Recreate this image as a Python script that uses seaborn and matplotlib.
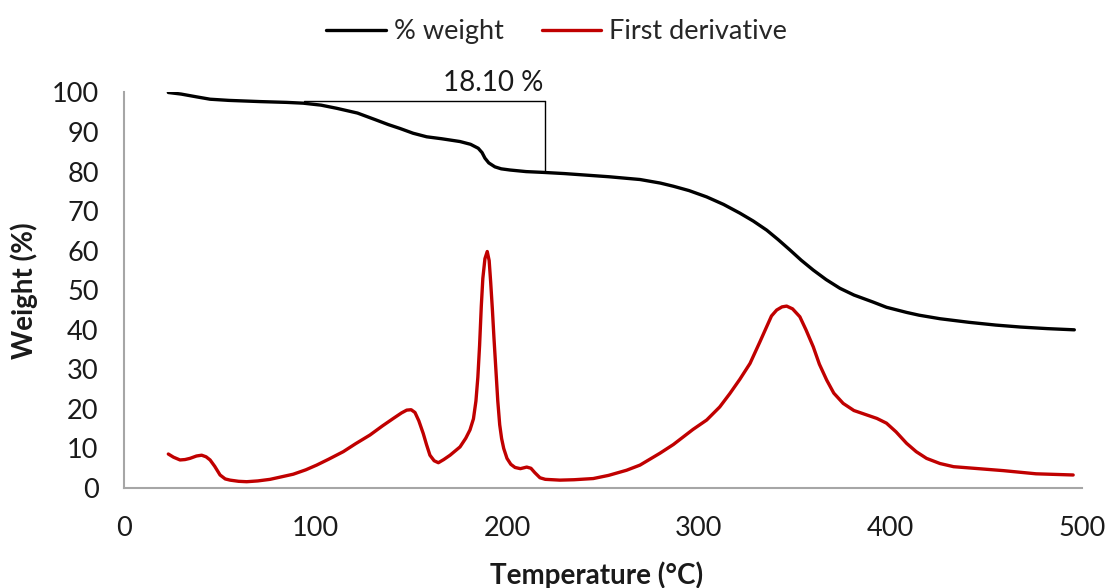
import matplotlib
matplotlib.use("Agg")
import matplotlib.pyplot as plt
import seaborn as sns
import pandas as pd

# Thermogravimetric curve: temperature (°C) vs remaining weight (%)
weight_temp = [23.3, 30, 38, 45.1, 55, 71.2, 85, 93.7, 103, 111.2, 122, 132,
               138, 144.2, 151, 158.1, 166, 175.5, 181, 185, 187, 188.5,
               190.5, 193.7, 197, 201.6, 210, 218.9, 230, 253.2, 269.4, 280,
               286.8, 295, 304.2, 313, 321.5, 328.5, 335.5, 341.5, 347.6,
               353.5, 359.8, 366.5, 373.7, 381, 391.1, 398, 408.5, 415, 426,
               441, 455, 468, 482, 496]
weight_pct = [100.0, 99.6, 98.9, 98.3, 98.0, 97.7, 97.5, 97.3, 96.8, 96.0,
              94.8, 93.0, 91.9, 90.9, 89.7, 88.8, 88.3, 87.6, 86.9, 85.9,
              84.8, 83.4, 82.2, 81.2, 80.7, 80.4, 80.0, 79.8, 79.5, 78.7,
              78.0, 77.1, 76.3, 75.2, 73.6, 71.7, 69.5, 67.5, 65.2, 62.8,
              60.2, 57.6, 55.1, 52.7, 50.5, 48.8, 47.0, 45.7, 44.4, 43.7,
              42.8, 41.9, 41.2, 40.7, 40.3, 40.0]

# First derivative of the weight curve
deriv_temp = [23.3, 26, 29.4, 32, 34.6, 38, 40.7, 43, 45.1, 47.5, 50.3, 53,
              55.5, 60, 64.2, 70, 76.4, 82, 88.5, 95, 100.7, 107, 114.6, 121,
              128.5, 135, 140.7, 145, 147.7, 150, 152, 154, 156.3, 158, 159.8,
              162, 164.2, 167, 170.3, 175.5, 178.5, 180.7, 182.5, 183.8,
              184.8, 185.7, 186.6, 187.4, 188.5, 189.7, 190.7, 191.5, 192.4,
              193.2, 194.2, 195.2, 196.2, 197.2, 198.3, 200, 202, 204.2, 207,
              210.3, 212.5, 214.5, 217.2, 220, 227.6, 235, 245, 253, 262.4,
              269.4, 279.8, 286.8, 297, 304.2, 311, 316.3, 321.5, 326.8, 332,
              335.5, 338, 340.7, 343.5, 345.9, 349, 352.8, 356, 359.8, 363,
              366.8, 370.5, 375.4, 381, 387.6, 393, 398, 403, 408.5, 413.5,
              418.9, 425.9, 433, 446, 459, 476, 495.4]
deriv_val = [8.6, 7.8, 7.1, 7.2, 7.5, 8.1, 8.3, 7.9, 7.1, 5.5, 3.3, 2.3, 2.0,
             1.7, 1.6, 1.8, 2.2, 2.8, 3.5, 4.6, 5.8, 7.3, 9.2, 11.2, 13.4,
             15.7, 17.6, 19.0, 19.7, 19.8, 19.1, 17.0, 13.8, 11.0, 8.3, 6.9,
             6.4, 7.2, 8.3, 10.4, 12.6, 14.7, 17.5, 22.0, 28.0, 36.0, 46.0,
             53.0, 58.0, 59.8, 57.5, 52.0, 45.0, 38.0, 30.0, 22.0, 16.0, 12.5,
             10.0, 7.5, 6.0, 5.2, 4.9, 5.3, 5.0, 3.9, 2.6, 2.2, 2.0, 2.1, 2.4,
             3.2, 4.5, 5.8, 8.8, 11.0, 14.8, 17.2, 20.5, 23.9, 27.5, 31.5,
             37.0, 40.8, 43.5, 45.0, 45.8, 46.0, 45.3, 43.3, 40.0, 35.7, 31.3,
             27.3, 24.0, 21.4, 19.6, 18.5, 17.6, 16.4, 14.2, 11.3, 9.2, 7.5,
             6.2, 5.4, 4.9, 4.4, 3.6, 3.3]

# Mass-loss step marked on the weight curve
step_temp = [94, 220]
step_top = 97.9
step_bottom = 79.8
step_label = "18.10 %"

x_ticks = [0, 100, 200, 300, 400, 500]
y_ticks = [0, 10, 20, 30, 40, 50, 60, 70, 80, 90, 100]

sns.set_style("white")
plt.rcParams["font.family"] = ["Lato", "DejaVu Sans"]

fig = plt.figure(figsize=(11.07, 5.88), dpi=100)
ax = fig.add_axes([0.1117, 0.170, 0.8657, 0.6727])

df_w = pd.DataFrame({"T": weight_temp, "W": weight_pct})
df_d = pd.DataFrame({"T": deriv_temp, "W": deriv_val})

sns.lineplot(data=df_w, x="T", y="W", color="black", lw=2.4,
             estimator=None, ax=ax, label="% weight",
             solid_joinstyle="round", solid_capstyle="round")
sns.lineplot(data=df_d, x="T", y="W", color="#C00000", lw=2.4,
             estimator=None, ax=ax, label="First derivative",
             solid_joinstyle="round", solid_capstyle="round")

# Step annotation
ax.plot([step_temp[0], step_temp[1]], [step_top, step_top], color="black", lw=1.0)
ax.plot([step_temp[1], step_temp[1]], [step_top, step_bottom], color="black", lw=1.0)
ax.text(step_temp[1] - 1, step_top + 1.2, step_label, ha="right", va="bottom",
        fontsize=20, color="#1a1a1a")

ax.set_xlim(0, 500)
ax.set_ylim(0, 100)
ax.set_xticks(x_ticks)
ax.set_yticks(y_ticks)

grey = "#A6A6A6"
for side in ["top", "right"]:
    ax.spines[side].set_visible(False)
for side in ["left", "bottom"]:
    ax.spines[side].set_color(grey)
    ax.spines[side].set_linewidth(1.5)
ax.tick_params(axis="both", which="major", direction="out", length=7,
               width=1.5, color=grey, labelsize=19.5, labelcolor="#1a1a1a")
ax.tick_params(axis="y", pad=11)
ax.tick_params(axis="x", pad=13)

ax.set_xlabel("Temperature (°C)", fontsize=20, fontweight="bold", color="#1a1a1a")
ax.set_ylabel("Weight (%)", fontsize=20, fontweight="bold", color="#1a1a1a")
ax.xaxis.set_label_coords(0.493, -0.185)
ax.yaxis.set_label_coords(-0.089, 0.5)

ax.get_legend().remove()
handles, labels = ax.get_legend_handles_labels()
fig.legend(handles, labels, loc="center", bbox_to_anchor=(0.503, 0.946),
           ncol=2, frameon=False, fontsize=19.5, handlelength=2.2,
           handletextpad=0.3, columnspacing=1.4)

fig.savefig("out.png", dpi=100)
